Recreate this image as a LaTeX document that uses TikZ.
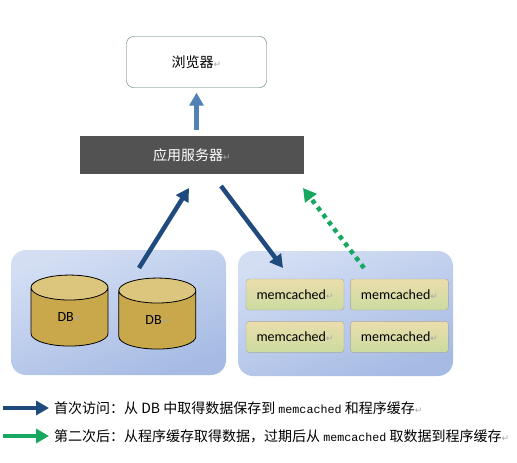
\documentclass[tikz,border=0pt]{standalone}
\usepackage{fontspec}
\setmainfont{Carlito}
\newfontfamily\cjk{Noto Sans CJK SC}
\newfontfamily\codefont{Liberation Mono}
\newfontfamily\markfont{DejaVu Sans}
\usetikzlibrary{
    positioning,      % relative placement
    arrows.meta,      % arrow tips
    shapes.geometric  % cylinder
}
\definecolor{navyarrow}{HTML}{1F4A7D}
\definecolor{steelarrow}{HTML}{4F81B5}
\definecolor{greenarrow}{HTML}{16A860}
\definecolor{panelleft}{HTML}{D3DEF3}
\definecolor{panelright}{HTML}{A6BBE4}
\definecolor{dbbody}{HTML}{C9A84C}
\definecolor{dbend}{HTML}{DCC67E}
\definecolor{cachetop}{HTML}{EBDDAC}
\definecolor{cachebottom}{HTML}{CBDBA0}
\newcommand{\pmark}{{\markfont\color{gray!70}\fontsize{9}{9}\selectfont ↵}}
\newcommand{\codeword}{{\codefont\fontsize{11.7}{11.7}\selectfont memcached}}
\begin{document}
\begin{tikzpicture}[
        x=1pt,
        y=-1pt,
        panel/.style={
            rectangle,
            rounded corners=15pt,
            draw=none,
            minimum width=215pt,
            minimum height=125pt,
            left color=panelleft,
            right color=panelright,
            shading angle=20
        },
        dbnode/.style={
            cylinder,
            shape border rotate=90,
            aspect=1.05,
            draw=black,
            thick,
            cylinder uses custom fill,
            cylinder body fill=dbbody,
            cylinder end fill=dbend,
            minimum width=77pt,
            minimum height=71pt,
            inner sep=0pt,
            font=\fontsize{14}{14}\selectfont
        },
        cachenode/.style={
            rectangle,
            rounded corners=3pt,
            draw=gray!70,
            minimum width=98pt,
            minimum height=31pt,
            inner sep=0pt,
            top color=cachetop,
            bottom color=cachebottom,
            font=\fontsize{14}{14}\selectfont
        },
        arrow/.style={
            -{Triangle[length=13pt,width=14pt]},
            line width=4.5pt,
            draw=#1
        },
        arrow/.default=navyarrow,
        dotarrow/.style={
            arrow=greenarrow,
            dash pattern=on 4.5pt off 4.5pt
        },
        legendtext/.style={
            anchor=west,
            inner sep=0pt,
            font=\fontsize{14}{15}\selectfont\cjk
        }
    ]
    \useasboundingbox (0,0) rectangle (517,463);

    % top: browser and server
    \node[rectangle, rounded corners=7pt, draw=black!60!teal!70, minimum width=140pt, minimum height=51pt,
          font=\fontsize{14}{14}\selectfont\cjk] (browser) at (196.5,62) {浏览器\pmark};
    \node[rectangle, fill=black!68, text=white, minimum width=224pt, minimum height=38pt,
          font=\fontsize{14}{14}\selectfont\cjk] (server) at (192,155) {应用服务器\pmark};

    % panels
    \node[panel] (dbpanel) at (118.5,312.5) {};
    \node[panel] (cachepanel) at (345.5,313.5) {};

    % databases
    \node[dbnode] (dbleft) at (69.5,317) {\raisebox{-1pt}{DB\pmark}};
    \node[dbnode, right=10pt of dbleft, yshift=-3pt] (dbright) {\raisebox{-1pt}{DB\pmark}};

    % memcached
    \node[cachenode] (cacheone) at (295,294.5) {memcached\pmark};
    \node[cachenode, right=6pt of cacheone] (cachetwo) {memcached\pmark};
    \node[cachenode, below=11pt of cacheone] (cachethree) {memcached\pmark};
    \node[cachenode, below=11pt of cachetwo] (cachefour) {memcached\pmark};

    % arrow ends
    \coordinate (dbout) at (139,268);
    \coordinate (serverin) at (189,188);
    \coordinate (serverout) at (221,186);
    \coordinate (cachein) at (283,268);
    \coordinate (cacheout) at (364,268);
    \coordinate (serverback) at (303,188);

    \draw[arrow=steelarrow, shorten <=6pt, shorten >=5pt] (server.north -| browser.south) -- (browser.south);
    \draw[arrow] (dbout) -- (serverin);
    \draw[arrow] (serverout) -- (cachein);
    \draw[dotarrow] (cacheout) -- (serverback);

    % legend
    \node[legendtext] (firsttext) at (54,408) {首次访问：从 DB 中取得数据保存到 \codeword{} 和程序缓存\pmark};
    \node[legendtext] (secondtext) at (54,436) {第二次后：从程序缓存取得数据，过期后从 \codeword{} 取数据到程序缓存\pmark};
    \coordinate (firststart) at (3,408);
    \coordinate (secondstart) at (3,436);
    \draw[arrow, shorten >=5pt] (firststart) -- (firsttext.west);
    \draw[arrow=greenarrow, shorten >=5pt] (secondstart) -- (secondtext.west);
\end{tikzpicture}
\end{document}
